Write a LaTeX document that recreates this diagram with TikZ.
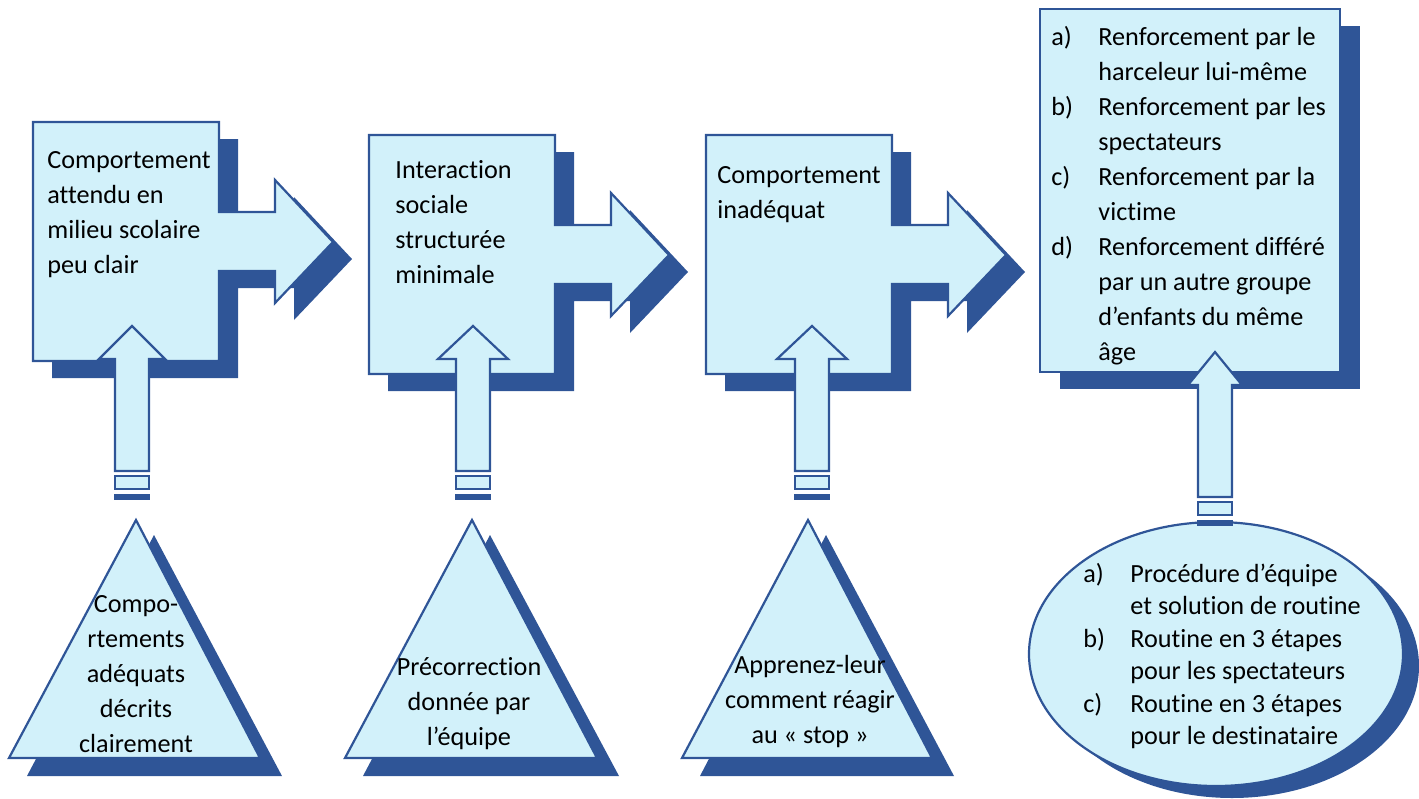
\documentclass[tikz,border=0pt]{standalone}
\usepackage{fontspec}
\setmainfont{Carlito}[Ligatures=NoCommon]
\usepackage{tikz}

\definecolor{boxcyan}{RGB}{210,241,250}
\definecolor{boxblue}{RGB}{47,85,151}

\tikzset{
  blockfill/.style={fill=boxcyan,draw=boxblue,line width=1.1pt},
  darkshadow/.style={fill=boxblue},
  boxtext/.style={inner sep=0pt,align=left,anchor=north west,font=\fontsize{13.1}{17.5}\selectfont},
  tritext/.style={inner sep=0pt,align=center,anchor=north,font=\fontsize{13.1}{17.5}\selectfont},
}
\newcommand{\firstline}{\rule{0pt}{10pt}}
\newcommand{\itemlab}[1]{\makebox[23.5pt][l]{#1}}
\newcommand{\itemgap}{\hspace*{23.5pt}}

\begin{document}
\begin{tikzpicture}[x=0.5pt,y=-0.5pt]
    \useasboundingbox (0,0) rectangle (1419,798);

    % boxes with an arrow to the right
    \foreach \dx/\dy in {0/0,336/13,673/13}{
        \begin{scope}[shift={(\dx,\dy)}]
            \fill[darkshadow,shift={(19,17)}] (33,122) -- (219,122) -- (219,212) -- (275,212) -- (275,180) -- (333,242)
                -- (275,303) -- (275,271) -- (219,271) -- (219,361) -- (33,361) -- cycle;
            \draw[blockfill] (33,122) -- (219,122) -- (219,212) -- (275,212) -- (275,180) -- (333,242)
                -- (275,303) -- (275,271) -- (219,271) -- (219,361) -- (33,361) -- cycle;
        \end{scope}
    }
    \fill[darkshadow] (1060,26) rectangle (1360,389);
    \draw[blockfill] (1040,9) rectangle (1340,372);

    % triangles
    \foreach \ax/\lx/\rx in {136/9/260,472/345/597,808/682/932}{
        \fill[darkshadow] ({\ax+18},535) -- ({\rx+22},776) -- ({\lx+18},776) -- cycle;
        \draw[blockfill] (\ax,520) -- (\rx,758) -- (\lx,758) -- cycle;
    }

    % ellipse
    \fill[darkshadow] (1232,666) ellipse [x radius=187,y radius=132];
    \draw[blockfill] (1216,654) ellipse [x radius=187,y radius=132];

    % arrows up
    \foreach \cx/\ty/\hw in {132/326/33,473/326/35,812/326/35,1215/352/27}{
        \draw[blockfill] (\cx,\ty) -- ({\cx+\hw},{\ty+33}) -- ({\cx+17},{\ty+33}) -- ({\cx+17},{\ty+145})
            -- ({\cx-17},{\ty+145}) -- ({\cx-17},{\ty+33}) -- ({\cx-\hw},{\ty+33}) -- cycle;
        \draw[blockfill] ({\cx-17},{\ty+150}) rectangle ({\cx+17},{\ty+163});
        \fill[darkshadow] ({\cx-18},{\ty+168}) rectangle ({\cx+18},{\ty+174});
    }

    \node[boxtext] (unclear) at (47,148) {\firstline Comportement\\attendu en\\milieu scolaire\\peu clair};
    \node[boxtext] (social) at (395,158) {\firstline Interaction\\sociale\\structurée\\minimale};
    \node[boxtext] (inadequate) at (717,163) {\firstline Comportement\\inadéquat};
    \node[boxtext] (reinforce) at (1051,25) {\firstline \itemlab{a)}Renforcement par le\\\itemgap harceleur lui-même\\
        \itemlab{b)}Renforcement par les\\\itemgap spectateurs\\\itemlab{c)}Renforcement par la\\\itemgap victime\\
        \itemlab{d)}Renforcement différé\\\itemgap par un autre groupe\\\itemgap d’enfants du même\\\itemgap âge};

    \node[tritext] (described) at (136,592) {\firstline Compo-\\rtements\\adéquats\\décrits\\clairement};
    \node[tritext] (precorrect) at (469,655) {\firstline Précorrection\\donnée par\\l’équipe};
    \node[tritext] (stop) at (810,653) {\firstline Apprenez-leur\\comment réagir\\au « stop »};

    \node[boxtext,font=\fontsize{13.1}{16.25}\selectfont] (routine) at (1083,562) {\firstline \itemlab{a)}Procédure d’équipe\\
        \itemgap et solution de routine\\\itemlab{b)}Routine en 3 étapes\\\itemgap pour les spectateurs\\
        \itemlab{c)}Routine en 3 étapes\\\itemgap pour le destinataire};
\end{tikzpicture}
\end{document}
